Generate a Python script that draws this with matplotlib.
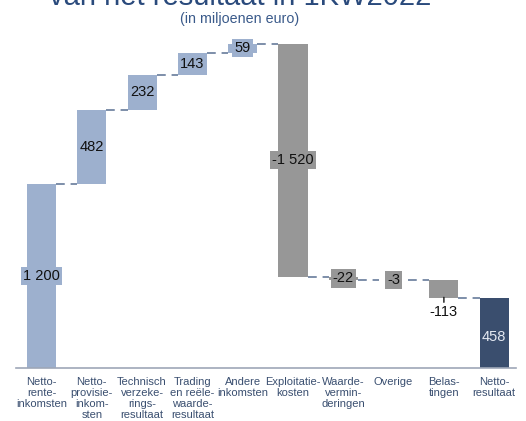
import matplotlib.pyplot as plt

plt.rcParams['font.family'] = ['Liberation Sans', 'DejaVu Sans']

categories = ["Netto-\nrente-\ninkomsten", "Netto-\nprovisie-\ninkom-\nsten",
              "Technisch\nverzeke-\nrings-\nresultaat", "Trading\nen reële-\nwaarde-\nresultaat",
              "Andere\ninkomsten", "Exploitatie-\nkosten", "Waarde-\nvermin-\nderingen",
              "Overige", "Belas-\ntingen", "Netto-\nresultaat"]
values = [1200, 482, 232, 143, 59, -1520, -22, -3, -113, 458]
labels = ["1 200", "482", "232", "143", "59", "-1 520", "-22", "-3", "-113", "458"]

light = '#9db0ce'
grey = '#979797'
dark = '#3a4e6e'

fig = plt.figure(figsize=(5.26, 4.21), dpi=100)
ax = fig.add_axes([0, 53 / 421, 1, 338 / 421])

# waterfall bases
bottoms = []
tops = []
run = 0
for i, v in enumerate(values):
    if i == len(values) - 1:
        bottoms.append(0)
        tops.append(v)
    else:
        bottoms.append(min(run, run + v))
        tops.append(max(run, run + v))
        run += v

colors = []
for i, v in enumerate(values):
    if i == len(values) - 1:
        colors.append(dark)
    elif v >= 0:
        colors.append(light)
    else:
        colors.append(grey)

x = list(range(len(values)))
w = 0.577
heights = [t - b for t, b in zip(tops, bottoms)]
ax.bar(x, heights, bottom=bottoms, width=w, color=colors, zorder=2)

# connectors
run = 0
for i, v in enumerate(values[:-1]):
    run += v
    ax.plot([i + w / 2, i + 1 - w / 2], [run, run], color='#7d8ea9', lw=1.4,
            dashes=(4.5, 3), zorder=1)

# value labels
for i, v in enumerate(values):
    mid = (tops[i] + bottoms[i]) / 2
    if labels[i] == "-113":
        ax.annotate(labels[i], xy=(i, bottoms[i] + 30), xytext=(i, bottoms[i] - 93),
                    ha='center', va='center', fontsize=10.5, color='#111111',
                    arrowprops=dict(arrowstyle='-', color='#111111', lw=1,
                                    shrinkA=0, shrinkB=3))
    elif i == len(values) - 1:
        ax.text(i, mid - 25, labels[i], ha='center', va='center', fontsize=10.5,
                color='#e4e9f2')
    else:
        ax.text(i, mid, labels[i], ha='center', va='center', fontsize=10.5,
                color='#111111',
                bbox=dict(boxstyle='square,pad=0.15', fc=colors[i], ec='none'))

ax.set_xlim(-41.5 / 50.3, (526 - 41.5) / 50.3)
ax.set_ylim(0, 338 / 0.1533)
ax.set_xticks(x)
ax.set_xticklabels(categories, fontsize=8, color='#3a4f70', linespacing=1.12)
ax.tick_params(axis='x', length=0, pad=6.5)
ax.set_yticks([])
for s in ['left', 'right', 'top']:
    ax.spines[s].set_visible(False)
ax.spines['bottom'].set_color('#9ea7b8')
ax.spines['bottom'].set_linewidth(1.2)
ax.spines['bottom'].set_bounds(-0.507, 9.43)

fig.text(240 / 526, 1 - 5 / 421, "van het resultaat in 1KW2022", ha='center',
         va='baseline', fontsize=21, color='#2a4a7c')
fig.text(240 / 526, 1 - 18.5 / 421, "(in miljoenen euro)", ha='center',
         va='center', fontsize=10.3, color='#3a5a8a')

fig.savefig('out.png', dpi=100)
